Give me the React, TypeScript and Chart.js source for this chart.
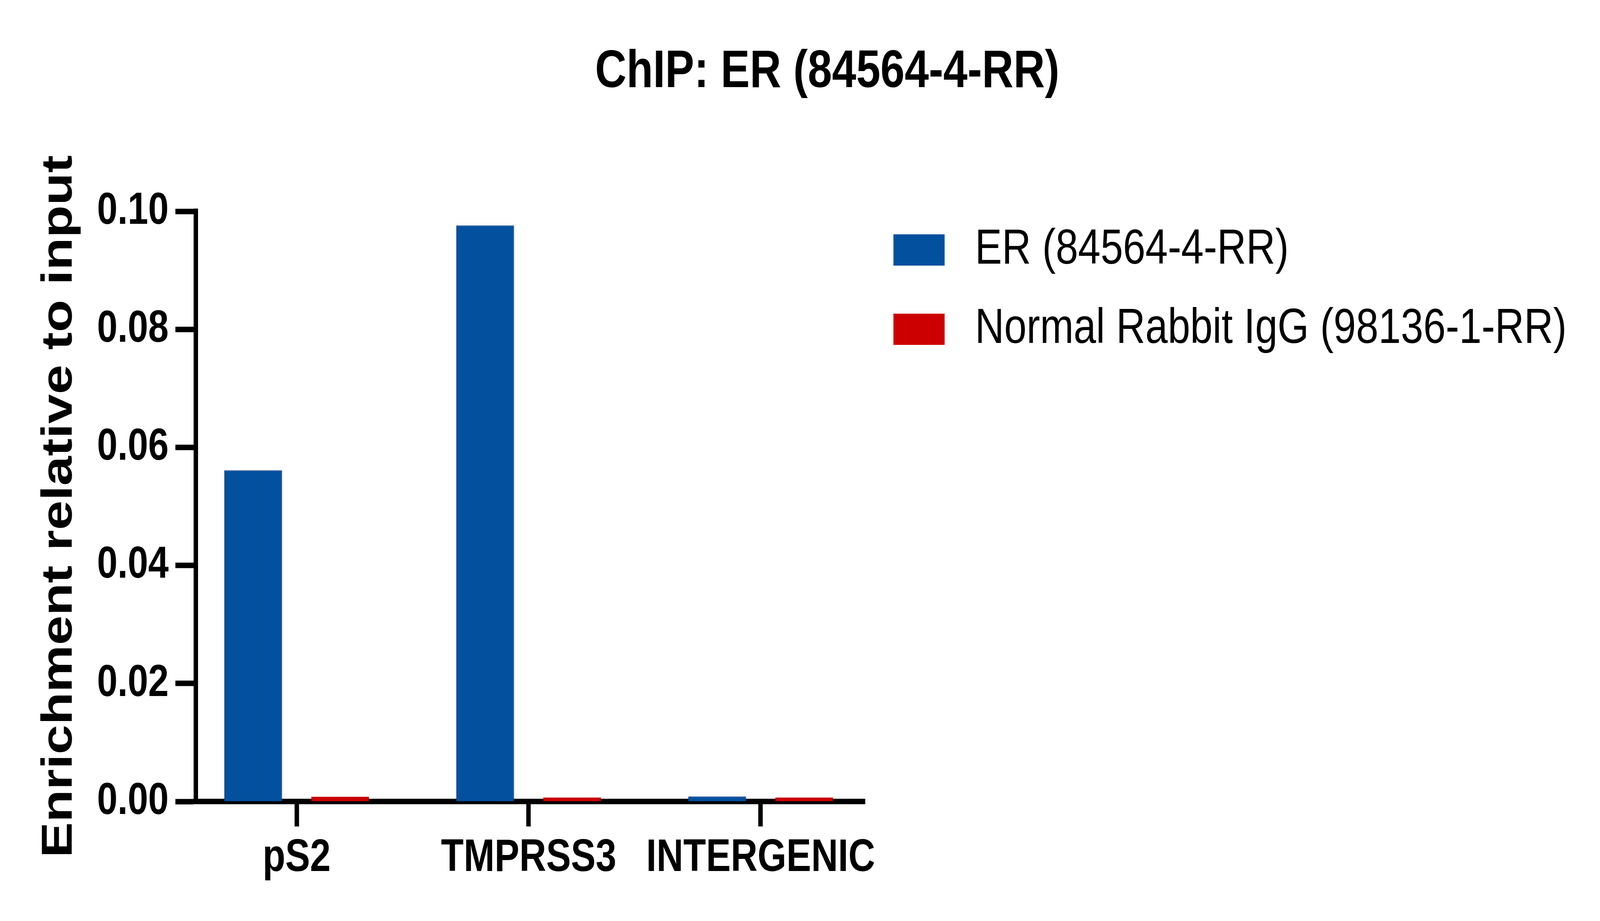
import { useEffect, useRef } from "react";
import { Chart, registerables } from "chart.js";

Chart.register(...registerables);

// values
const CATEGORIES = ["pS2", "TMPRSS3", "INTERGENIC"];
const ER_VALUES = [0.0561, 0.0976, 0.00085];
const IGG_VALUES = [0.0008, 0.0007, 0.0007];
const SERIES_LABELS = ["ER (84564-4-RR)", "Normal Rabbit IgG (98136-1-RR)"];
const Y_TICKS = [0, 0.02, 0.04, 0.06, 0.08, 0.1];
const TITLE = "ChIP: ER (84564-4-RR)";
const Y_TITLE = "Enrichment relative to input";

const WIDTH = 5000;
const HEIGHT = 2358;
const BLUE = "#02509e";
const RED = "#cc0000";
const FONT = "'Liberation Sans', Arial, Helvetica, sans-serif";

Chart.defaults.font.family = FONT;
Chart.defaults.color = "#000";

function swatch(color: string) {
  const c = document.createElement("canvas");
  c.width = 160;
  c.height = 80;
  const g = c.getContext("2d")!;
  g.fillStyle = color;
  g.fillRect(0, 0, 160, 80);
  return c;
}

// title sits over plot + legend, legend floats right of the plot
const placeBlocks = {
  id: "placeBlocks",
  afterLayout(chart: any) {
    const t = chart.titleBlock;
    if (t) {
      const w = t.right - t.left;
      t.left = 2585 - w / 2;
      t.right = t.left + w;
    }
    const l = chart.legend;
    if (l) {
      // legend clips to its own box, so give it the whole right side
      const h = l.height;
      l.left = 2683;
      l.right = WIDTH;
      l.width = l.right - l.left;
      l.top = 500;
      l.bottom = l.top + h;
    }
  },
};

function EnrichmentChart({ sx, sy }: { sx: number; sy: number }) {
  const ref = useRef<HTMLCanvasElement>(null);
  const chartRef = useRef<Chart | null>(null);

  useEffect(() => {
    if (!ref.current) return;
    const swatches = [swatch(BLUE), swatch(RED)];
    chartRef.current?.destroy();
    chartRef.current = new Chart(ref.current, {
      type: "bar",
      data: {
        datasets: [
          {
            label: SERIES_LABELS[0],
            data: ER_VALUES.map((v, i) => ({ x: i, y: v })),
            backgroundColor: BLUE,
            borderColor: "#17408e",
            borderWidth: 2,
            categoryPercentage: 0.749,
            barPercentage: 0.665,
          },
          {
            label: SERIES_LABELS[1],
            data: IGG_VALUES.map((v, i) => ({ x: i, y: v })),
            backgroundColor: RED,
            borderColor: "#b30000",
            borderWidth: 1,
            categoryPercentage: 0.749,
            barPercentage: 0.665,
          },
        ],
      },
      options: {
        animation: false,
        responsive: false,
        layout: { padding: { left: 0, right: 2297, top: 0, bottom: 0 } },
        plugins: {
          title: {
            display: true,
            text: TITLE,
            color: "#000",
            font: { size: 136, weight: "bold" },
            padding: { top: 103.4, bottom: 274.4 },
          },
          legend: {
            position: "chartArea",
            align: "start",
            labels: {
              usePointStyle: true,
              pointStyleWidth: 224,
              padding: 77,
              color: "#000",
              font: { size: 126, weight: "normal" },
              generateLabels: (chart) =>
                Chart.defaults.plugins.legend.labels
                  .generateLabels(chart)
                  .map((item, i) => ({ ...item, pointStyle: swatches[i], lineWidth: 0 })),
            },
          },
          tooltip: { enabled: false },
        },
        scales: {
          x: {
            type: "linear",
            min: -0.4345,
            max: 2.4497,
            offset: false,
            afterBuildTicks: (s) => {
              s.ticks = CATEGORIES.map((_, i) => ({ value: i }));
            },
            afterFit: (s) => {
              s.height = 306;
            },
            ticks: {
              autoSkip: false,
              maxRotation: 0,
              minRotation: 0,
              padding: 12,
              color: "#000",
              font: { size: 116, weight: "bold" },
              callback: (v) => CATEGORIES[Number(v)] ?? "",
            },
            grid: {
              display: true,
              offset: false,
              drawOnChartArea: false,
              drawTicks: true,
              tickLength: 64,
              tickWidth: 14,
              tickColor: "#000",
            },
            border: { display: true, width: 14, color: "#000" },
          },
          y: {
            min: 0,
            max: 0.1,
            afterBuildTicks: (s) => {
              s.ticks = Y_TICKS.map((v) => ({ value: v }));
            },
            afterFit: (s) => {
              s.width = 612;
            },
            ticks: {
              padding: 21,
              color: "#000",
              font: { size: 115, weight: "bold" },
              callback: (v) => Number(v).toFixed(2),
            },
            grid: {
              display: true,
              drawOnChartArea: false,
              drawTicks: true,
              tickLength: 64,
              tickWidth: 14,
              tickColor: "#000",
            },
            border: { display: true, width: 14, color: "#000" },
            title: {
              display: true,
              text: Y_TITLE,
              color: "#000",
              font: { size: 136, weight: "bold" },
              padding: { top: 104.4, bottom: 0 },
            },
          },
        },
      },
      plugins: [placeBlocks],
    });
    return () => {
      chartRef.current?.destroy();
      chartRef.current = null;
    };
  }, []);

  return (
    <div style={{ width: WIDTH * sx, height: HEIGHT * sy, overflow: "hidden", background: "#fff" }}>
      <div
        style={{
          width: WIDTH,
          height: HEIGHT,
          transform: `scale(${sx}, ${sy})`,
          transformOrigin: "0 0",
        }}
      >
        <canvas
          ref={ref}
          width={WIDTH}
          height={HEIGHT}
          style={{ display: "block" }}
          role="img"
          aria-label="Grouped bar chart of ChIP enrichment relative to input"
        >
          ChIP enrichment of ER and normal rabbit IgG at pS2, TMPRSS3 and an intergenic region.
        </canvas>
      </div>
    </div>
  );
}

export default function App() {
  // the figure is laid out in 5000x2358 units and fitted to the window
  document.body.style.margin = "0";
  document.body.style.overflow = "hidden";
  const sx = window.innerWidth ? window.innerWidth / WIDTH : 1;
  const sy = window.innerHeight ? window.innerHeight / HEIGHT : 1;
  return <EnrichmentChart sx={sx} sy={sy} />;
}
